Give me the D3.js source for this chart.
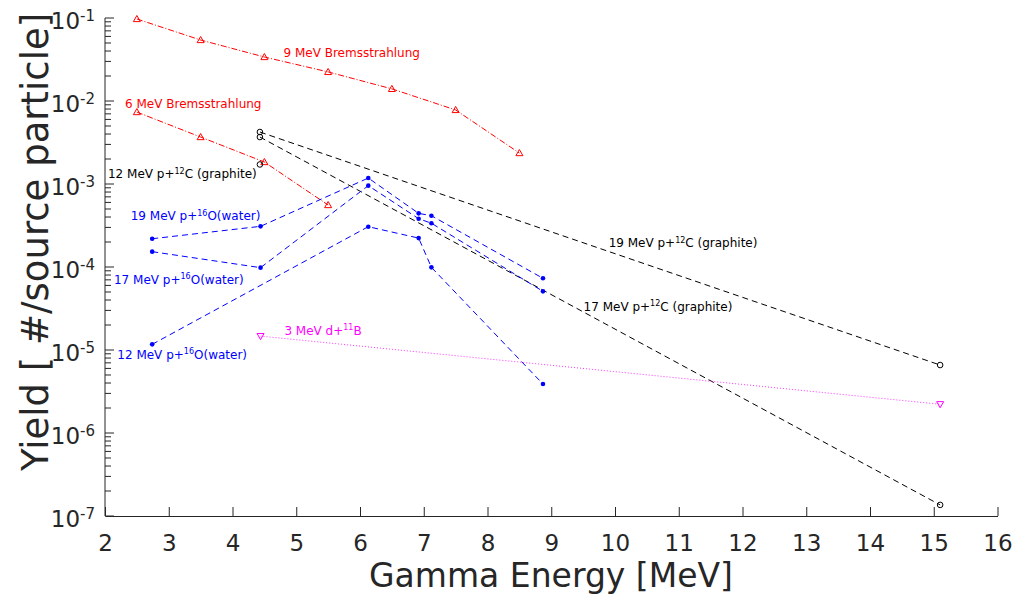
<!DOCTYPE html>
<html>
<head>
<meta charset="utf-8">
<script src="https://cdn.jsdelivr.net/npm/d3@7"></script>
<style>
  html, body { margin: 0; padding: 0; background: #fff; }
  svg { display: block; font-family: "DejaVu Sans", sans-serif; }
</style>
</head>
<body>
<svg id="chart" width="1016" height="596"></svg>
<script>
// Gamma-ray yields per source particle for several production reactions.

// 9 MeV bremsstrahlung
const brems9E = [2.5, 3.5, 4.5, 5.5, 6.5, 7.5, 8.5];
const brems9Y = [0.0973, 0.0543, 0.0339, 0.0224, 0.0140, 0.0078, 0.00236];

// 6 MeV bremsstrahlung
const brems6E = [2.5, 3.5, 4.5, 5.5];
const brems6Y = [0.00736, 0.00368, 0.00184, 0.000558];

// p + 12C (graphite)
const c12E = [4.43, 15.1];
const c12p19Y = [0.00423, 6.59e-6];
const c12p17Y = [0.00368, 1.36e-7];
const c12p12E = [4.43];
const c12p12Y = [0.00172];

// p + 16O (water)
const o16E = [2.74, 4.44, 6.13, 6.92, 7.12, 8.87];
const o16p19Y = [2.19e-4, 3.09e-4, 1.18e-3, 4.43e-4, 4.15e-4, 7.31e-5];
const o16p17Y = [1.53e-4, 9.82e-5, 9.55e-4, 3.82e-4, 3.37e-4, 5.09e-5];
const o16p12E = [2.74, 6.13, 6.92, 7.12, 8.87];
const o16p12Y = [1.17e-5, 3.06e-4, 2.23e-4, 9.91e-5, 3.89e-6];

// d + 11B
const b11E = [4.44, 15.1];
const b11Y = [1.47e-5, 2.22e-6];

// Axis ticks
const xTicks = [2, 3, 4, 5, 6, 7, 8, 9, 10, 11, 12, 13, 14, 15, 16];
const yExponents = [-7, -6, -5, -4, -3, -2, -1];

// Curve labels: [energy, yield] anchor, text pieces (sup = superscript)
const labels = [
  { x: 4.80, y: 0.0336, color: "#ff0000", parts: [{ t: "9 MeV Bremsstrahlung" }] },
  { x: 2.314, y: 0.00816, color: "#ff0000", parts: [{ t: "6 MeV Bremsstrahlung" }] },
  { x: 2.047, y: 0.00117, color: "#000000", parts: [{ t: "12 MeV p+" }, { t: "12", sup: true }, { t: "C (graphite)" }] },
  { x: 2.403, y: 3.68e-4, color: "#0000ff", parts: [{ t: "19 MeV p+" }, { t: "16", sup: true }, { t: "O(water)" }] },
  { x: 2.141, y: 6.24e-5, color: "#0000ff", parts: [{ t: "17 MeV p+" }, { t: "16", sup: true }, { t: "O(water)" }] },
  { x: 2.193, y: 7.85e-6, color: "#0000ff", parts: [{ t: "12 MeV p+" }, { t: "16", sup: true }, { t: "O(water)" }] },
  { x: 4.814, y: 1.52e-5, color: "#ff00ff", parts: [{ t: "3 MeV d+" }, { t: "11", sup: true }, { t: "B" }] },
  { x: 9.90, y: 1.73e-4, color: "#000000", parts: [{ t: "19 MeV p+" }, { t: "12", sup: true }, { t: "C (graphite)" }] },
  { x: 9.507, y: 2.97e-5, color: "#000000", parts: [{ t: "17 MeV p+" }, { t: "12", sup: true }, { t: "C (graphite)" }] }
];

const zip = (xs, ys) => xs.map((x, i) => [x, ys[i]]);

const series = [
  { pts: zip(brems9E, brems9Y), color: "#ff0000", dash: "6,2,1,2", marker: "triUp" },
  { pts: zip(brems6E, brems6Y), color: "#ff0000", dash: "6,2,1,2", marker: "triUp" },
  { pts: zip(c12E, c12p19Y), color: "#000000", dash: "6,4", marker: "circle" },
  { pts: zip(c12E, c12p17Y), color: "#000000", dash: "6,4", marker: "circle" },
  { pts: zip(c12p12E, c12p12Y), color: "#000000", dash: "6,4", marker: "circle" },
  { pts: zip(o16E, o16p19Y), color: "#0000ff", dash: "6,4", marker: "dot" },
  { pts: zip(o16E, o16p17Y), color: "#0000ff", dash: "6,4", marker: "dot" },
  { pts: zip(o16p12E, o16p12Y), color: "#0000ff", dash: "6,4", marker: "dot" },
  { pts: zip(b11E, b11Y), color: "#ff00ff", dash: "1,2", marker: "triDown" }
];

const svg = d3.select("#chart");
const axisColor = "#262626";

const x = d3.scaleLinear().domain([2, 16]).range([105, 997.5]);
const y = d3.scaleLog().domain([1e-7, 1e-1]).range([516, 18]);

// Series lines
const line = d3.line().x(d => x(d[0])).y(d => y(d[1]));
const gLines = svg.append("g");
series.forEach(s => {
  if (s.pts.length > 1) {
    gLines.append("path")
      .attr("d", line(s.pts))
      .attr("fill", "none")
      .attr("stroke", s.color)
      .attr("stroke-width", s.marker === "triDown" ? 0.8 : 1)
      .attr("stroke-dasharray", s.dash);
  }
});

// Markers
const gMarks = svg.append("g");
series.forEach(s => {
  s.pts.forEach(p => {
    const cx = x(p[0]), cy = y(p[1]);
    if (s.marker === "circle") {
      gMarks.append("circle").attr("cx", cx).attr("cy", cy).attr("r", 2.8)
        .attr("fill", "none").attr("stroke", s.color).attr("stroke-width", 1);
    } else if (s.marker === "dot") {
      gMarks.append("circle").attr("cx", cx).attr("cy", cy).attr("r", 2.3)
        .attr("fill", s.color).attr("stroke", "none");
    } else {
      const h = 3.5, up = s.marker === "triUp" ? -1 : 1;
      const pathD = `M${cx},${cy + up * h} L${cx - h},${cy - up * h * 0.75} L${cx + h},${cy - up * h * 0.75} Z`;
      gMarks.append("path").attr("d", pathD)
        .attr("fill", "none").attr("stroke", s.color).attr("stroke-width", 1);
    }
  });
});

// X axis
const gx = svg.append("g").attr("transform", `translate(0,${y(1e-7)})`);
gx.call(d3.axisBottom(x).tickValues(xTicks).tickSize(-9).tickSizeOuter(0).tickPadding(13)
  .tickFormat(d3.format("d")));
gx.select(".domain").attr("stroke", axisColor).attr("stroke-width", 1);
gx.selectAll(".tick line").attr("stroke", axisColor);
gx.selectAll(".tick text").attr("fill", axisColor).style("font-size", "23px")
  .style("font-family", "DejaVu Sans").attr("dy", "0.95em");

// Y axis: line, major and minor ticks
const gy = svg.append("g");
gy.append("line").attr("x1", x(2)).attr("x2", x(2)).attr("y1", y(1e-1)).attr("y2", y(1e-7))
  .attr("stroke", axisColor).attr("stroke-width", 1);
const minorVals = [];
yExponents.forEach(e => {
  if (e < -1) for (let m = 2; m <= 9; m++) minorVals.push(m * Math.pow(10, e));
});
gy.selectAll("line.minor").data(minorVals).join("line").attr("class", "minor")
  .attr("x1", x(2)).attr("x2", x(2) + 6)
  .attr("y1", d => y(d)).attr("y2", d => y(d))
  .attr("stroke", axisColor).attr("stroke-width", 1);
gy.selectAll("line.major").data(yExponents).join("line").attr("class", "major")
  .attr("x1", x(2)).attr("x2", x(2) + 9)
  .attr("y1", d => y(Math.pow(10, d))).attr("y2", d => y(Math.pow(10, d)))
  .attr("stroke", axisColor).attr("stroke-width", 1);
const yt = gy.selectAll("text.ytick").data(yExponents).join("text").attr("class", "ytick")
  .attr("x", 95).attr("y", d => y(Math.pow(10, d)) + 11)
  .attr("text-anchor", "end").attr("fill", axisColor).style("font-size", "23px");
yt.append("tspan").text("10");
yt.append("tspan").attr("dy", "-0.55em").style("font-size", "15px").text(d => "-" + Math.abs(d));

// Axis titles
svg.append("text").attr("x", 551).attr("y", 587).attr("text-anchor", "middle")
  .attr("fill", axisColor).style("font-size", "33px").text("Gamma Energy [MeV]");
svg.append("text").attr("transform", `translate(48,471) rotate(-90)`).attr("text-anchor", "start")
  .attr("fill", axisColor).style("font-size", "37px").text("Yield [ #/source particle]");

// Curve labels
labels.forEach(l => {
  const t = svg.append("text").attr("x", x(l.x)).attr("y", y(l.y))
    .attr("fill", l.color).style("font-size", "12px");
  let raised = false;
  l.parts.forEach(p => {
    const ts = t.append("tspan").text(p.t);
    if (p.sup) { ts.attr("dy", -4.5).style("font-size", "8px"); raised = true; }
    else if (raised) { ts.attr("dy", 4.5); raised = false; }
  });
});
</script>
</body>
</html>
